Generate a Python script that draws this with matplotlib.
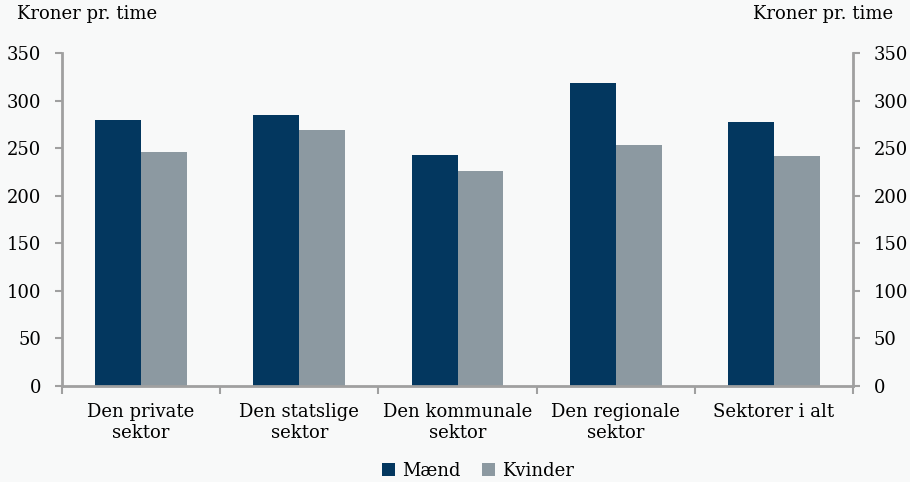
import numpy as np
import matplotlib.pyplot as plt

categories = ["Den private\nsektor", "Den statslige\nsektor", "Den kommunale\nsektor",
              "Den regionale\nsektor", "Sektorer i alt"]
maend = [280, 285, 243, 318, 277]
kvinder = [246, 269, 226, 253, 242]

navy = "#03375F"
grey = "#8C99A1"
bg = "#F8F9F9"
axis_col = "#A0A0A0"

plt.rcParams["font.family"] = ["DejaVu Serif"]
plt.rcParams["font.size"] = 13

fig = plt.figure(figsize=(9.1, 4.82), dpi=100, facecolor=bg)
ax = fig.add_axes([0.0681, 0.1992, 0.8693, 0.6908], facecolor=bg)

x = np.arange(len(categories))
w = 0.29
ax.bar(x - w / 2, maend, w, color=navy, label="Mænd")
ax.bar(x + w / 2, kvinder, w, color=grey, label="Kvinder")

ax.set_xlim(-0.5, len(categories) - 0.5)
ax.set_ylim(0, 350)
ax.set_yticks(np.arange(0, 351, 50))

ax.set_xticks(x)
ax.set_xticklabels(categories, linespacing=1.25)
ax.set_xticks(np.arange(-0.5, len(categories), 1), minor=True)
ax.tick_params(axis="x", which="major", length=0, pad=12)
ax.tick_params(axis="x", which="minor", length=6, width=1.5, color=axis_col)
ax.tick_params(axis="y", length=5, width=1.5, color=axis_col, pad=10)

for side in ["top", "right"]:
    ax.spines[side].set_visible(False)
for side in ["left", "bottom"]:
    ax.spines[side].set_color(axis_col)
    ax.spines[side].set_linewidth(2)

ax2 = ax.twinx()
ax2.set_ylim(0, 350)
ax2.set_yticks(np.arange(0, 351, 50))
ax2.tick_params(axis="y", length=5, width=1.5, color=axis_col, pad=10)
for side in ["top", "left", "bottom"]:
    ax2.spines[side].set_visible(False)
ax2.spines["right"].set_color(axis_col)
ax2.spines["right"].set_linewidth(2)

fig.text(0.019, 0.99, "Kroner pr. time", ha="left", va="top")
fig.text(0.981, 0.99, "Kroner pr. time", ha="right", va="top")

fig.legend(loc="lower center", bbox_to_anchor=(0.525, 0.004), ncol=2, frameon=False,
           handlelength=0.7, handleheight=0.7, handletextpad=0.4, columnspacing=1.2,
           borderaxespad=0, borderpad=0)

fig.savefig("out.png", dpi=100, facecolor=bg)
